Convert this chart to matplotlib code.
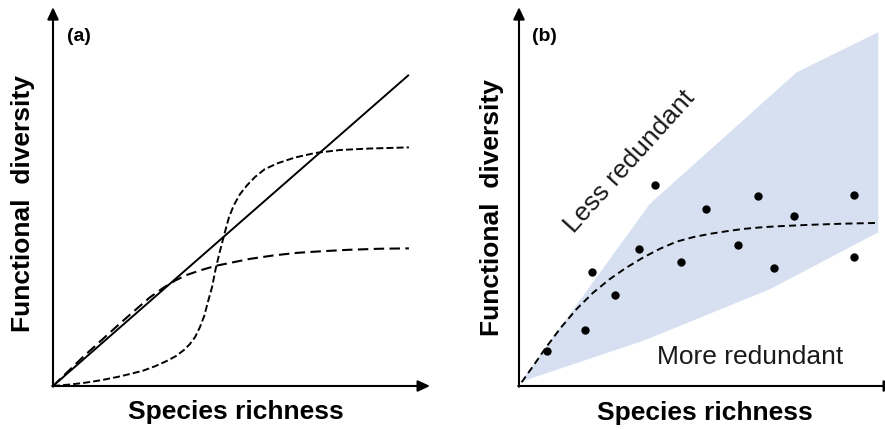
import matplotlib
matplotlib.use("Agg")
import matplotlib.pyplot as plt

plt.rcParams["font.family"] = ["Liberation Sans", "DejaVu Sans"]

# ---------------- Panel (a): conceptual FD-SR relationships ----------------
linear_x = [0.0, 9.44]
linear_y = [0.0, 8.32]

sigmoid_x = [0.00, 0.45, 0.80, 1.25, 1.70, 2.04, 2.39, 2.71, 3.02, 3.26, 3.47,
             3.63, 3.77, 3.90, 4.01, 4.11, 4.22, 4.32, 4.43, 4.54, 4.67, 4.80,
             4.96, 5.15, 5.36, 5.62, 5.97, 6.42, 6.95, 7.61, 8.41, 9.44]
sigmoid_y = [0.00, 0.04, 0.08, 0.15, 0.24, 0.32, 0.41, 0.53, 0.67, 0.80, 0.96,
             1.12, 1.31, 1.58, 1.87, 2.25, 2.65, 3.16, 3.61, 4.04, 4.52, 4.84,
             5.13, 5.37, 5.59, 5.80, 5.96, 6.11, 6.23, 6.31, 6.35, 6.38]

saturating_x = [0.00, 0.80, 1.72, 2.18, 2.57, 2.92, 3.24, 3.55, 3.90, 4.30,
                4.69, 5.23, 5.84, 6.47, 7.08, 7.80, 8.67, 9.44]
saturating_y = [0.00, 0.78, 1.62, 2.03, 2.37, 2.62, 2.82, 2.97, 3.09, 3.21,
                3.29, 3.40, 3.49, 3.56, 3.60, 3.64, 3.67, 3.68]

# ---------------- Panel (b): observed communities ----------------
richness = [0.75, 1.76, 1.93, 2.54, 3.18, 3.62, 4.31, 4.95, 5.81, 6.34,
            6.77, 7.30, 8.89, 8.89]
fdiv = [0.94, 1.51, 3.04, 2.43, 3.66, 5.37, 3.32, 4.74, 3.76, 5.09,
        3.16, 4.55, 5.10, 3.46]

fit_x = [0.07, 0.40, 0.73, 1.11, 1.53, 1.96, 2.41, 2.84, 3.30, 3.74, 4.18,
         4.62, 5.07, 5.52, 5.95, 6.39, 6.84, 7.72, 8.60, 9.49]
fit_y = [0.10, 0.57, 1.05, 1.56, 2.06, 2.49, 2.86, 3.16, 3.44, 3.67, 3.86,
         3.98, 4.07, 4.14, 4.20, 4.24, 4.27, 4.31, 4.34, 4.36]

band_upper_x = [0.07, 3.47, 7.37, 9.53]
band_upper_y = [0.14, 4.87, 8.39, 9.46]
band_lower_x = [0.07, 3.30, 6.66, 9.53]
band_lower_y = [0.12, 1.21, 2.59, 4.11]

W, H = 885, 431
fig = plt.figure(figsize=(W / 100, H / 100), dpi=100)


def make_axes(left_px):
    ax = fig.add_axes([left_px / W, (H - 387) / H, 377 / W, 374 / H])
    ax.set_xlim(0, 10)
    ax.set_ylim(0, 10)
    ax.axis("off")
    arrow = dict(arrowstyle="-|>,head_length=0.6,head_width=0.28",
                 lw=1.5, color="black", mutation_scale=12,
                 shrinkA=0, shrinkB=0)
    ax.annotate("", xy=(10.0, 0), xytext=(-0.02, 0), arrowprops=arrow,
                annotation_clip=False)
    ax.annotate("", xy=(0, 10.13), xytext=(0, -0.02), arrowprops=arrow,
                annotation_clip=False)
    return ax


ax_a = make_axes(53)
ax_a.plot(linear_x, linear_y, color="black", lw=1.4, solid_capstyle="butt")
ax_a.plot(sigmoid_x, sigmoid_y, color="black", lw=1.4, dashes=(3.6, 1.6),
          solid_joinstyle="round", dash_joinstyle="round")
ax_a.plot(saturating_x, saturating_y, color="black", lw=1.5, dashes=(5.0, 2.6),
          dash_joinstyle="round")
ax_a.text(0.70, 9.37, "(a)", fontsize=14, fontweight="bold",
          ha="center", va="center")

ax_b = make_axes(519)
ax_b.fill(band_upper_x + band_lower_x[::-1], band_upper_y + band_lower_y[::-1],
          color="#d6e0f1", lw=0, zorder=1)
ax_b.plot(fit_x, fit_y, color="black", lw=1.4, dashes=(3.6, 2.2), zorder=2,
          dash_joinstyle="round")
ax_b.scatter(richness, fdiv, s=36, color="black", zorder=3, linewidths=0)
ax_b.text(0.68, 9.37, "(b)", fontsize=14, fontweight="bold",
          ha="center", va="center")
ax_b.text(2.94, 6.02, "Less redundant", fontsize=19, rotation=48,
          ha="center", va="center", rotation_mode="anchor", color="#1a1a1a")
ax_b.text(6.13, 0.81, "More redundant", fontsize=19,
          ha="center", va="center", color="#1a1a1a")

# Axis titles
for xc, yc in [(235.5, 412), (705, 413)]:
    fig.text(xc / W, 1 - yc / H, "Species richness", fontsize=19,
             fontweight="bold", ha="center", va="center")
for xc, yc in [(23, 204), (492, 207.5)]:
    fig.text(xc / W, 1 - yc / H, "Functional  diversity", fontsize=19,
             fontweight="bold", ha="center", va="center", rotation=90)

fig.savefig("out.png", dpi=100)
